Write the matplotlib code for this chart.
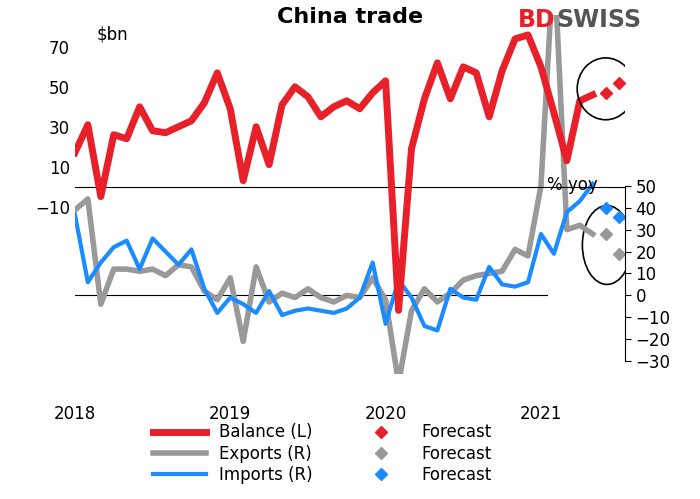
import numpy as np
import matplotlib.pyplot as plt
from matplotlib.patches import Ellipse

years = ["2018", "2019", "2020", "2021"]
balance = [17, 31, -5, 26, 24, 40, 28, 27, 30, 33, 42, 57,
           39, 3, 30, 11, 41, 50, 45, 35, 40, 43, 39, 47,
           53, -62, 19, 44, 62, 44, 60, 57, 35, 58, 74, 76,
           60, 37, 13, 43, 46]
exports = [39, 44, -4, 12, 12, 11, 12, 9, 14, 13, 2, -2,
           8, -21, 13, -3, 1, -1, 3, -1, -3, 0, -1, 8,
           -2, -40, -7, 3, -3, 1, 7, 9, 10, 11, 21, 18,
           50, 155, 30, 32, 28]
imports = [37, 6, 15, 22, 25, 12, 26, 20, 14, 21, 3, -8,
           -1, -4, -8, 2, -9, -7, -6, -7, -8, -6, -1, 15,
           -13, 7, -1, -14, -16, 3, -1, -2, 13, 5, 4, 6,
           28, 19, 38, 43, 51]
bal_fc = [47, 52]
exp_fc = [28, 19]
imp_fc = [40, 36]

x = np.arange(len(balance))
xf = np.arange(len(balance), len(balance) + len(bal_fc))

fig = plt.figure(figsize=(7, 4.99), dpi=100)
ax = fig.add_axes([0.107, 0.25, 0.786, 0.72])
ax2 = ax.twinx()

ax.plot(x, balance, color="#e8202a", lw=5, label="Balance (L)", zorder=5)
ax.plot(xf, bal_fc, "D", color="#e8202a", ms=6, ls="none", label="Forecast")
ax2.plot(x, exports, color="#999999", lw=4, label="Exports (R)")
ax2.plot(xf, exp_fc, "D", color="#999999", ms=6, ls="none", label="Forecast")
ax2.plot(x, imports, color="#1a8cff", lw=3, label="Imports (R)")
ax2.plot(xf, imp_fc, "D", color="#1a8cff", ms=6, ls="none", label="Forecast")
ax.set_zorder(3)
ax.patch.set_visible(False)

ax.set_xlim(0, 42.5)
ax.set_ylim(-94, 86)
ax2.set_ylim(-36, 128)
ax.set_yticks([-10, 10, 30, 50, 70])
ax2.set_yticks(range(-30, 51, 10))
ax.set_xticks([0, 12, 24, 36])
ax.set_xticklabels(years)
for a in (ax, ax2):
    for s in a.spines.values():
        s.set_visible(False)
    a.tick_params(labelsize=12, length=0)
ax.tick_params(axis="x", pad=22)
ax2.spines["right"].set_visible(True)
ax2.spines["right"].set_bounds(-30, 50)
ax2.tick_params(axis="y", length=4, direction="out")
ax.axhline(0, color="black", lw=0.8, zorder=1)
ax2.plot([0, 36.5], [0, 0], color="black", lw=0.8, zorder=0)

ax.add_patch(Ellipse((41.0, 49), 4.4, 31, fill=False, color="black", lw=1.2, zorder=6))
ax2.add_patch(Ellipse((41.1, 23), 3.8, 36, fill=False, color="black", lw=1.2))

fig.text(0.5, 0.985, "China trade", fontsize=16, fontweight="bold", ha="center", va="top")
ax.text(0.04, 0.97, "$bn", transform=ax.transAxes, fontsize=12, va="top")
ax2.text(36.5, 48, "% yoy", fontsize=12)
fig.text(0.74, 0.945, "BD", color="#e8202a", fontsize=17, fontweight="bold")
fig.text(0.795, 0.945, "SWISS", color="#555555", fontsize=17, fontweight="bold")

h1, l1 = ax.get_legend_handles_labels()
h2, l2 = ax2.get_legend_handles_labels()
h = h1 + h2
l = l1 + l2
order = [0, 2, 4, 1, 3, 5]
fig.legend([h[i] for i in order], [l[i] for i in order], ncol=2, frameon=False,
           loc="lower center", bbox_to_anchor=(0.46, 0.0), fontsize=12,
           handlelength=3.2, columnspacing=2.5, labelspacing=0.2)

fig.savefig("out.png")
